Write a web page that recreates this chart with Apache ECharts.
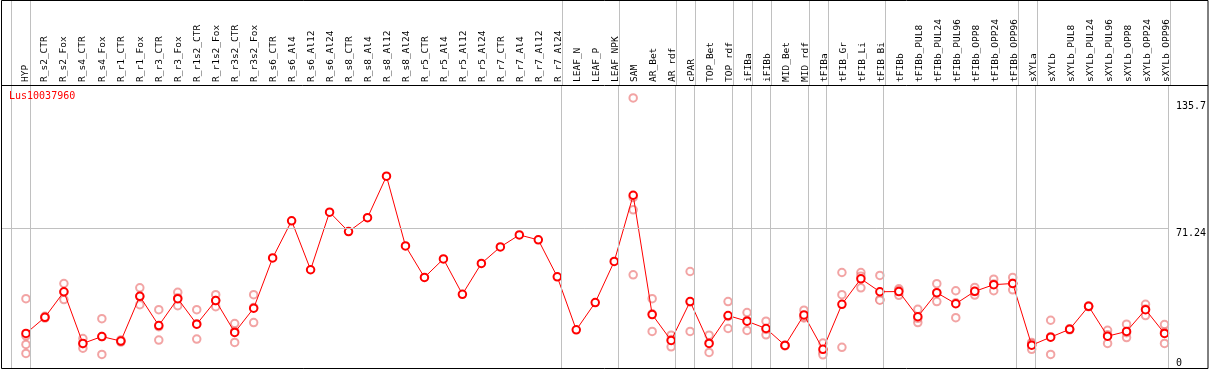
<!DOCTYPE html>
<html>
<head>
<meta charset="utf-8">
<script src="https://cdn.jsdelivr.net/npm/echarts@6/dist/echarts.min.js"></script>
<style>
html,body{margin:0;padding:0;background:#fff;}
#chart{width:1209px;height:370px;}
</style>
</head>
<body>
<div id="chart"></div>
<script>
const geneName = 'Lus10037960';

const categories = [
  'HYP','R_s2_CTR','R_s2_Fox','R_s4_CTR','R_s4_Fox','R_r1_CTR','R_r1_Fox','R_r3_CTR','R_r3_Fox',
  'R_r1s2_CTR','R_r1s2_Fox','R_r3s2_CTR','R_r3s2_Fox','R_s6_CTR','R_s6_Al4','R_s6_Al12','R_s6_Al24',
  'R_s8_CTR','R_s8_Al4','R_s8_Al12','R_s8_Al24','R_r5_CTR','R_r5_Al4','R_r5_Al12','R_r5_Al24',
  'R_r7_CTR','R_r7_Al4','R_r7_Al12','R_r7_Al24','LEAF_N','LEAF_P','LEAF_NPK','SAM','AR_Bet','AR_rdf',
  'cPAR','TOP_Bet','TOP_rdf','iFIBa','iFIBb','MID_Bet','MID_rdf','tFIBa','tFIB_Gr','tFIB_Li','tFIB_Bi',
  'tFIBb','tFIBb_PUL8','tFIBb_PUL24','tFIBb_PUL96','tFIBb_OPP8','tFIBb_OPP24','tFIBb_OPP96',
  'sXYLa','sXYLb','sXYLb_PUL8','sXYLb_PUL24','sXYLb_PUL96','sXYLb_OPP8','sXYLb_OPP24','sXYLb_OPP96'
];

const means = [
  17.6, 25.8, 38.8, 12.5, 16.0, 13.7, 36.5, 21.6, 35.3, 22.3,
  34.3, 18.1, 30.4, 56.0, 74.9, 50.0, 79.3, 69.4, 76.5, 97.6,
  62.1, 46.1, 55.5, 37.5, 53.2, 61.6, 67.7, 65.2, 46.4, 19.4,
  33.3, 54.2, 87.9, 27.2, 14.0, 33.8, 12.5, 26.7, 23.8, 20.1,
  11.5, 27.0, 9.5, 32.4, 45.4, 38.8, 38.9, 26.1, 38.3, 32.7,
  39.0, 42.4, 43.0, 11.6, 15.7, 19.7, 31.4, 16.2, 18.6, 29.7, 17.6
];

const replicates = [
  [35.3, 16.4, 12.0, 7.4], [25.4, 26.3, 25.8], [43.0, 34.8, 38.6], [15.0, 10.1, 12.4],
  [25.1, 6.9, 16.0], [14.3, 13.2, 13.6], [40.8, 32.2, 36.5], [29.7, 14.2, 21.0],
  [38.5, 31.7, 35.7], [29.7, 14.7, 22.5], [37.3, 31.2, 34.3], [22.6, 13.0, 18.6],
  [37.3, 23.1, 30.8],
  [], [], [], [], [], [], [], [], [], [], [], [], [], [], [], [], [], [], [],
  [137.4, 86.8, 80.5, 47.4], [35.3, 18.6, 27.6], [16.7, 10.8, 14.5], [49.1, 18.6, 33.7],
  [16.7, 7.9, 12.8], [33.8, 20.1, 26.2], [28.2, 19.1, 24.1], [23.8, 16.9, 19.6],
  [11.3, 11.7, 11.5], [29.4, 25.5, 26.1], [12.7, 7.9, 6.7], [48.6, 37.3, 10.5],
  [48.6, 46.7, 40.8], [47.1, 34.8, 34.5], [40.3, 37.0, 39.4], [29.9, 23.1, 25.3],
  [42.9, 33.8, 38.2], [39.3, 25.6, 33.2], [41.0, 37.1, 38.9], [45.2, 39.3, 42.7],
  [46.1, 39.8, 43.1], [13.0, 9.5, 12.3], [24.3, 6.9, 15.9], [19.4, 20.0, 19.7],
  [31.2, 31.6, 31.4], [19.2, 12.5, 16.9], [22.3, 15.5, 18.0], [32.4, 26.7, 30.0],
  [22.1, 12.5, 18.2]
];

// group boundaries: separator drawn after these category indices
const groupEnds = [-1, 0, 28, 31, 34, 35, 37, 38, 39, 41, 42, 45, 52, 53, 60];

const yTickLabels = [71.24, 135.7];
const yZeroLabel = [0];
const yGridValue = 71.24;
const yMax = 144;

// ---- build ----
const FONT = 'DejaVu Sans Mono';
const STEP = 19.01;            // px per category
const FIRST = 26;              // px of first point
const GRID_LEFT = 1, GRID_W = 1170;
const xMin = -(FIRST - GRID_LEFT) / STEP;
const xMax = xMin + GRID_W / STEP;
const SEP_OFF = 0.2;

const idx = categories.map((_, i) => i);
const lineData = means.map((v, i) => [i, v]);
const scatterData = [];
replicates.forEach((arr, i) => arr.forEach(v => scatterData.push([i, v])));
const sepLines = groupEnds.map(g => ({ xAxis: g + SEP_OFF }));
const sepStyle = { color: '#c0c0c0', width: 1, type: 'solid' };
const REP_COLOR = 'rgba(232,90,90,0.55)';

const chart = echarts.init(document.getElementById('chart'), null, { renderer: 'canvas' });
chart.setOption({
  animation: false,
  backgroundColor: '#fff',
  title: {
    text: geneName, left: 9, top: 91, padding: 0,
    textStyle: { color: '#ff0000', fontSize: 10, fontFamily: FONT, fontWeight: 'normal' }
  },
  grid: [
    { left: GRID_LEFT, top: 0, width: GRID_W, height: 85 },
    { left: GRID_LEFT, top: 85, width: GRID_W, height: 283 }
  ],
  xAxis: [
    {
      gridIndex: 0, type: 'value', min: xMin, max: xMax, position: 'bottom',
      axisLine: { show: false }, axisTick: { show: false }, splitLine: { show: false },
      axisLabel: {
        inside: true, rotate: 90, margin: 3, customValues: idx,
        formatter: v => categories[Math.round(v)] || '',
        fontFamily: FONT, fontSize: 9.5, color: '#000'
      }
    },
    {
      gridIndex: 1, type: 'value', min: xMin, max: xMax, show: false
    }
  ],
  yAxis: [
    { gridIndex: 0, type: 'value', min: 0, max: 1, show: false },
    {
      gridIndex: 1, type: 'value', min: 0, max: yMax, position: 'right',
      axisLine: { show: false }, axisTick: { show: false }, splitLine: { show: false },
      axisLabel: {
        customValues: yTickLabels, verticalAlign: 'top', margin: 7,
        fontFamily: FONT, fontSize: 10, color: '#000'
      }
    },
    {
      gridIndex: 1, type: 'value', min: 0, max: yMax, position: 'right',
      axisLine: { show: false }, axisTick: { show: false }, splitLine: { show: false },
      axisLabel: {
        customValues: yZeroLabel, verticalAlign: 'bottom', margin: 7,
        fontFamily: FONT, fontSize: 10, color: '#000'
      }
    }
  ],
  series: [
    {
      type: 'line', xAxisIndex: 0, yAxisIndex: 0, data: [], silent: true,
      markLine: { silent: true, symbol: 'none', label: { show: false }, lineStyle: sepStyle, data: sepLines }
    },
    {
      type: 'scatter', xAxisIndex: 1, yAxisIndex: 1, data: scatterData, z: 2,
      symbol: 'emptyCircle', symbolSize: 7.5,
      itemStyle: { color: REP_COLOR, borderColor: REP_COLOR, borderWidth: 1.5, opacity: 1 },
      markLine: { silent: true, symbol: 'none', label: { show: false }, lineStyle: sepStyle, data: sepLines.concat([{ yAxis: yGridValue }]) }
    },
    {
      type: 'line', xAxisIndex: 1, yAxisIndex: 1, data: lineData, z: 3,
      symbol: 'emptyCircle', symbolSize: 7.5,
      lineStyle: { color: '#ff0000', width: 1 },
      itemStyle: { color: '#ff0000', borderColor: '#ff0000', borderWidth: 1.8 }
    }
  ],
  graphic: [
    { type: 'line', silent: true, z: 10, shape: { x1: 1, y1: 85.5, x2: 1208, y2: 85.5 }, style: { stroke: '#000', lineWidth: 1 } },
    { type: 'rect', silent: true, z: 10, shape: { x: 1.5, y: 0.5, width: 1206.5, height: 368 }, style: { fill: null, stroke: '#000', lineWidth: 1 } }
  ]
});
</script>
</body>
</html>
